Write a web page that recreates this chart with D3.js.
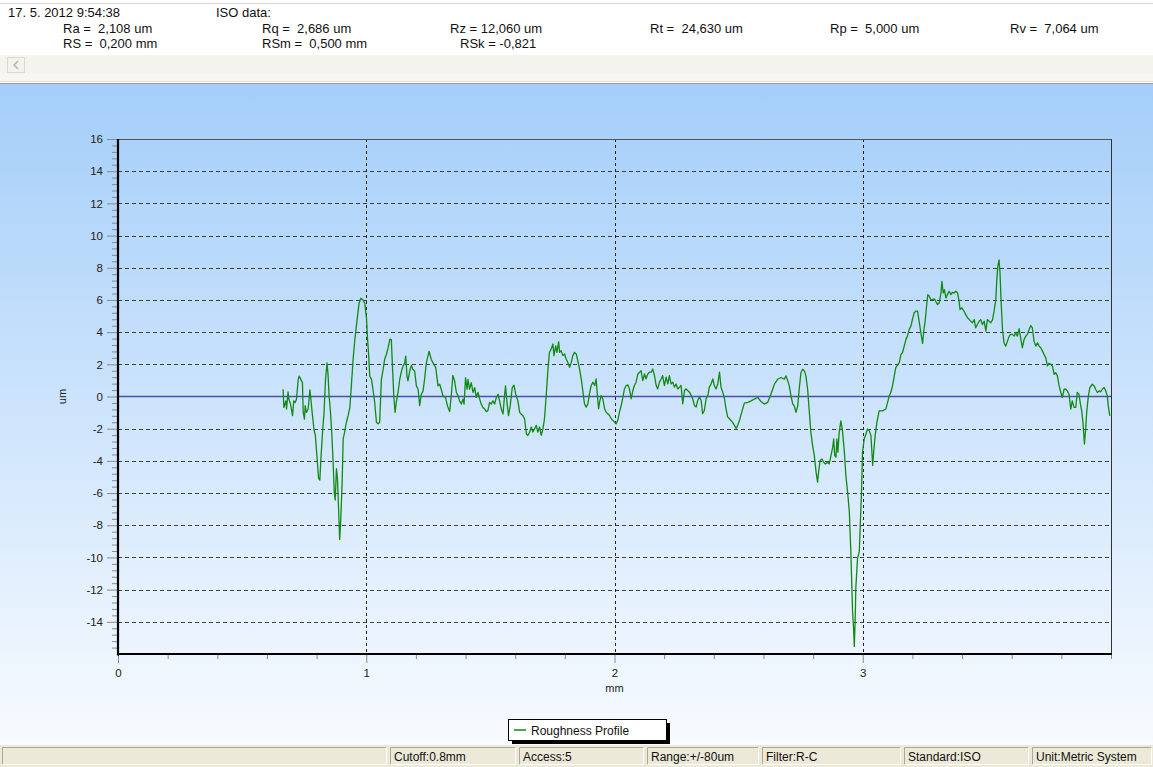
<!DOCTYPE html>
<html><head><meta charset="utf-8">
<script src="https://cdn.jsdelivr.net/npm/d3@7/dist/d3.min.js"></script>
<style>
html,body{margin:0;padding:0;background:#fff;overflow:hidden;}
svg{display:block;font-family:"Liberation Sans",Arial,sans-serif;}
text{white-space:pre;}
</style></head><body>
<svg id="c" width="1153" height="767"></svg>
<script>
// ---------- data ----------
const headerDate = "17. 5. 2012 9:54:38";
const headerTitle = "ISO data:";
const isoRow1 = ["Ra =  2,108 um", "Rq =  2,686 um", "Rz = 12,060 um", "Rt =  24,630 um", "Rp =  5,000 um", "Rv =  7,064 um"];
const isoRow2 = ["RS =  0,200 mm", "RSm =  0,500 mm", "RSk = -0,821"];
const statusItems = ["", "Cutoff:0.8mm", "Access:5", "Range:+/-80um", "Filter:R-C", "Standard:ISO", "Unit:Metric System"];
const legendLabel = "Roughness Profile";
const xAxisTitle = "mm";
const yAxisTitle = "um";
const xDomain = [0, 4];
const yDomain = [-16, 16];
const xMajorTicks = [0, 1, 2, 3];
const xTickLabels = ["0", "1", "2", "3"];
const yMajorTicks = [-14, -12, -10, -8, -6, -4, -2, 0, 2, 4, 6, 8, 10, 12, 14, 16];
const yTickLabels = ["-14", "-12", "-10", "-8", "-6", "-4", "-2", "0", "2", "4", "6", "8", "10", "12", "14", "16"];
const xGridValues = [1, 2, 3];
const yGridValues = [-14, -12, -10, -8, -6, -4, -2, 2, 4, 6, 8, 10, 12, 14];
const zeroLineValue = 0;
// roughness profile [mm, um]
const profile = [
[0.665,0.45],[0.668,-0.68],[0.676,-0.27],[0.679,-0.78],[0.685,0.29],[0.688,-0.16],[0.695,-0.47],[0.703,-1.19],[0.708,-0.27],[0.714,-0.37],
[0.719,-0.16],[0.726,1.07],[0.730,1.27],[0.739,0.97],[0.743,0.86],[0.746,-0.99],[0.751,-1.40],[0.754,-0.57],[0.759,-0.99],[0.766,-0.78],
[0.773,0.41],[0.777,-0.16],[0.782,-0.99],[0.790,-2.11],[0.795,-2.42],[0.802,-3.86],[0.808,-5.09],[0.813,-5.20],[0.817,-3.96],[0.824,-2.22],
[0.830,-0.99],[0.836,1.07],[0.842,2.09],[0.846,1.38],[0.850,0.14],[0.856,-0.99],[0.861,-2.22],[0.867,-4.27],[0.871,-5.91],[0.875,-6.43],
[0.880,-4.48],[0.884,-5.09],[0.889,-7.15],[0.893,-8.89],[0.897,-7.76],[0.903,-5.30],[0.907,-2.63],[0.913,-2.22],[0.920,-1.60],[0.927,-1.19],
[0.934,-0.68],[0.940,0.66],[0.947,2.30],[0.954,3.53],[0.963,4.76],[0.971,5.79],[0.978,6.10],[0.987,6.00],[0.994,5.79],[1.001,4.87],
[1.005,3.63],[1.010,2.51],[1.014,1.27],[1.021,1.07],[1.027,0.45],[1.034,-0.37],[1.041,-1.60],[1.048,-1.70],[1.054,-1.60],[1.061,1.07],
[1.068,1.68],[1.074,2.30],[1.081,2.61],[1.088,3.02],[1.095,3.57],[1.101,3.53],[1.105,2.09],[1.111,0.04],[1.116,-0.99],[1.121,-0.37],
[1.128,0.25],[1.135,1.07],[1.142,1.58],[1.148,1.89],[1.155,2.09],[1.159,2.51],[1.164,1.27],[1.168,0.97],[1.175,1.58],[1.182,1.93],
[1.188,1.68],[1.195,1.58],[1.202,0.66],[1.209,0.45],[1.215,-0.57],[1.222,0.14],[1.229,0.35],[1.235,1.07],[1.242,2.09],[1.253,2.81],
[1.262,2.30],[1.269,2.09],[1.280,1.79],[1.289,0.66],[1.296,0.76],[1.302,0.45],[1.309,0.04],[1.319,-0.06],[1.327,-0.57],[1.336,-0.94],
[1.343,0.14],[1.349,1.31],[1.356,0.97],[1.363,0.25],[1.370,0.04],[1.376,-0.27],[1.383,-0.47],[1.390,-0.16],[1.394,-0.47],[1.400,1.17],
[1.406,0.45],[1.410,1.07],[1.416,0.45],[1.423,0.86],[1.430,0.25],[1.437,0.55],[1.443,-0.06],[1.450,0.25],[1.457,-0.16],[1.463,-0.47],
[1.470,-0.68],[1.477,-0.78],[1.484,-0.94],[1.490,-0.88],[1.497,-0.37],[1.504,-0.47],[1.510,-0.27],[1.517,-0.47],[1.524,-0.06],[1.531,0.14],
[1.537,-0.27],[1.544,-0.78],[1.551,-1.09],[1.557,0.04],[1.561,0.66],[1.567,-0.37],[1.573,-1.19],[1.580,-0.57],[1.588,0.55],[1.595,0.70],
[1.602,0.14],[1.611,-0.27],[1.618,-0.99],[1.624,-1.09],[1.631,-1.19],[1.638,-1.40],[1.645,-2.32],[1.651,-2.42],[1.658,-2.22],
[1.665,-1.90],[1.671,-2.21],[1.678,-2.00],[1.685,-1.79],[1.691,-2.21],[1.698,-1.90],[1.705,-2.41],[1.712,-2.00],[1.718,-1.38],[1.725,0.06],
[1.732,1.71],[1.738,2.74],[1.745,2.95],[1.752,3.26],[1.756,2.54],[1.763,3.15],[1.768,2.74],[1.775,3.40],[1.779,2.74],[1.785,2.85],
[1.792,2.54],[1.799,2.64],[1.805,2.33],[1.812,2.12],[1.819,1.81],[1.826,2.12],[1.832,2.54],[1.839,2.74],[1.846,2.64],[1.852,2.23],
[1.859,1.71],[1.866,1.09],[1.873,0.27],[1.879,-0.45],[1.886,-0.66],[1.893,-0.45],[1.899,0.16],[1.906,0.68],[1.913,0.89],[1.920,0.68],
[1.926,1.09],[1.930,0.27],[1.936,-0.76],[1.940,-0.35],[1.946,0.06],[1.953,-0.14],[1.960,-0.76],[1.966,-0.97],[1.973,-1.07],[1.980,-1.18],
[1.987,-1.38],[1.993,-1.48],[2.000,-1.59],[2.007,-1.69],[2.013,-1.48],[2.020,-0.97],[2.027,-0.56],[2.034,-0.04],[2.040,0.47],[2.047,0.68],
[2.054,0.72],[2.060,0.47],[2.067,-0.14],[2.074,0.37],[2.080,0.68],[2.087,0.89],[2.094,1.40],[2.101,1.51],[2.107,1.61],[2.114,0.99],
[2.121,1.40],[2.127,1.09],[2.134,1.40],[2.141,1.51],[2.148,1.51],[2.154,1.71],[2.161,1.30],[2.168,0.68],[2.174,0.47],[2.181,0.89],
[2.188,1.09],[2.194,1.30],[2.201,0.68],[2.208,1.20],[2.215,0.78],[2.221,1.30],[2.228,0.78],[2.235,0.89],[2.241,0.58],[2.248,0.78],
[2.255,0.47],[2.262,0.58],[2.268,0.68],[2.275,-0.45],[2.282,0.37],[2.288,0.47],[2.295,0.37],[2.302,0.27],[2.309,0.06],[2.315,-0.14],
[2.322,-0.56],[2.329,-0.66],[2.335,-0.25],[2.342,-0.04],[2.349,-0.25],[2.355,-1.07],[2.362,-0.87],[2.369,-0.14],[2.376,0.06],[2.382,0.58],
[2.389,0.78],[2.396,1.09],[2.402,0.68],[2.409,0.47],[2.416,0.78],[2.423,1.51],[2.429,0.58],[2.436,0.27],[2.443,-0.14],[2.449,-0.76],
[2.456,-1.28],[2.463,-1.38],
[2.476,-1.61],[2.490,-1.98],[2.496,-1.81],[2.503,-1.51],[2.516,-0.78],[2.523,-0.41],[2.537,-0.37],[2.550,-0.27],[2.563,-0.16],[2.577,-0.06],
[2.590,-0.31],[2.604,-0.47],[2.617,-0.37],[2.630,0.14],[2.644,0.76],[2.657,1.07],[2.671,1.18],[2.684,1.07],[2.691,1.28],[2.698,0.97],
[2.704,0.66],[2.711,0.04],[2.718,-0.47],[2.724,-0.58],[2.731,-0.99],[2.738,-0.58],[2.744,0.45],[2.751,1.48],[2.758,1.69],[2.765,1.59],
[2.771,1.28],[2.778,0.45],[2.785,-0.99],[2.791,-2.23],[2.798,-3.05],[2.805,-3.67],[2.812,-4.70],[2.818,-5.32],[2.822,-4.70],[2.828,-3.98],
[2.836,-3.88],[2.842,-4.08],[2.849,-4.19],[2.858,-4.08],[2.865,-4.19],[2.872,-3.67],[2.879,-3.15],[2.883,-2.64],[2.887,-3.67],[2.892,-3.77],
[2.896,-2.64],[2.900,-3.46],[2.905,-2.23],[2.912,-1.51],[2.919,-2.23],[2.926,-3.46],[2.932,-4.91],[2.939,-5.94],[2.946,-7.18],[2.952,-9.65],
[2.959,-13.36],[2.963,-14.39],[2.966,-15.53],[2.970,-13.57],[2.972,-11.92],[2.979,-10.06],[2.986,-9.65],[2.990,-8.00],[2.995,-5.94],[2.999,-3.46],
[3.006,-2.64],[3.013,-2.33],[3.019,-2.02],[3.026,-2.12],[3.033,-2.43],[3.040,-4.29],[3.044,-3.46],[3.050,-2.43],[3.057,-1.61],[3.066,-0.89],
[3.080,-0.89],[3.093,-0.78],[3.100,-0.37],[3.107,0.04],[3.113,0.25],[3.120,0.66],[3.127,1.28],[3.133,1.79],[3.147,2.10],[3.154,2.62],
[3.160,2.72],[3.167,3.13],[3.174,3.55],[3.180,3.75],[3.187,4.16],[3.194,4.37],[3.200,4.78],[3.207,5.20],[3.214,5.30],[3.221,5.30],
[3.227,4.68],[3.234,3.96],[3.241,3.30],[3.245,3.96],[3.252,4.78],[3.257,5.61],[3.262,6.33],[3.268,6.23],[3.274,6.02],[3.281,6.02],
[3.288,6.06],[3.294,5.92],[3.301,5.71],[3.308,5.81],[3.315,6.43],[3.319,7.15],[3.324,6.43],[3.329,6.64],[3.335,6.12],[3.341,6.33],
[3.348,6.54],[3.355,6.33],[3.361,6.47],[3.368,6.43],[3.375,6.54],[3.382,6.43],[3.388,5.92],[3.392,5.40],[3.399,5.51],[3.408,5.30],
[3.415,5.09],[3.422,4.89],[3.429,4.78],[3.435,4.68],[3.442,4.58],[3.449,4.78],[3.455,4.27],[3.462,4.47],[3.469,4.68],[3.475,4.78],
[3.482,4.47],[3.489,4.68],[3.496,4.06],[3.502,4.78],[3.509,4.68],[3.516,4.58],[3.523,4.78],[3.529,5.30],[3.536,6.02],[3.540,7.26],
[3.544,8.08],[3.549,8.49],[3.553,7.67],[3.557,6.02],[3.563,4.16],[3.569,3.34],[3.576,3.13],[3.583,3.44],[3.590,3.75],[3.596,3.86],
[3.603,3.86],[3.610,3.75],[3.616,3.96],[3.623,3.75],[3.630,4.21],[3.637,3.55],[3.643,3.03],[3.650,3.55],[3.657,3.75],[3.663,3.86],
[3.670,4.16],[3.677,4.41],[3.683,4.27],[3.690,3.44],[3.697,3.13],[3.704,3.34],[3.710,3.13],[3.717,3.03],[3.724,2.82],[3.730,2.62],
[3.737,2.41],[3.744,1.90],[3.750,2.06],[3.757,2.00],[3.764,1.90],[3.771,1.38],[3.777,1.48],[3.784,1.28],[3.791,0.66],[3.798,0.25],
[3.804,-0.06],[3.811,0.45],[3.818,0.45],[3.824,0.35],[3.831,0.14],[3.838,-0.78],[3.844,-0.27],[3.851,-0.68],[3.858,-0.68],[3.864,0.25],
[3.871,0.14],[3.878,-0.58],[3.882,-0.89],[3.887,-1.61],[3.893,-2.95],[3.898,-2.02],[3.902,-0.99],[3.909,0.04],[3.915,0.56],[3.925,0.76],
[3.932,0.66],[3.938,0.45],[3.945,0.25],[3.952,0.35],[3.958,0.29],[3.965,0.45],[3.972,0.56],[3.979,0.35],[3.985,0.04],[3.989,-0.58],
[3.995,-1.20]
];

// ---------- layout ----------
const W = 1153, H = 767;
const plot = {left: 118, right: 1111, top: 139, bottom: 654};
const svg = d3.select("#c");
const defs = svg.append("defs");
const grad = defs.append("linearGradient").attr("id", "bg")
  .attr("gradientUnits", "userSpaceOnUse").attr("x1", 0).attr("y1", 85).attr("x2", 0).attr("y2", 745);
grad.append("stop").attr("offset", 0).attr("stop-color", "#a4cef9");
grad.append("stop").attr("offset", 1).attr("stop-color", "#f8fbff");

svg.append("rect").attr("width", W).attr("height", H).attr("fill", "#ffffff");
// top separator
svg.append("line").attr("x1", 0).attr("x2", W).attr("y1", 3.5).attr("y2", 3.5).attr("stroke", "#d4d4d4");

// header texts
const hdr = svg.append("g").attr("font-size", 13).attr("fill", "#111");
hdr.append("text").attr("x", 8).attr("y", 17).text(headerDate);
hdr.append("text").attr("x", 216).attr("y", 17).text(headerTitle);
const row1X = [63, 262, 450, 650, 830, 1010];
isoRow1.forEach((t, i) => hdr.append("text").attr("x", row1X[i]).attr("y", 33).text(t));
const row2X = [63, 262, 460];
isoRow2.forEach((t, i) => hdr.append("text").attr("x", row2X[i]).attr("y", 48).text(t));

// scrollbar band
const sb = svg.append("g");
sb.append("rect").attr("x", 0).attr("y", 55).attr("width", W).attr("height", 26).attr("fill", "#f4f3ee");
sb.append("rect").attr("x", 0).attr("y", 74).attr("width", W).attr("height", 7).attr("fill", "#f7f6f2");
sb.append("rect").attr("x", 7.5).attr("y", 57.5).attr("width", 17).attr("height", 15).attr("fill", "#f3f2ec").attr("stroke", "#dcdacd");
sb.append("path").attr("d", "M18,61 L14,65 L18,69").attr("fill", "none").attr("stroke", "#b8b6aa").attr("stroke-width", 1.5);
sb.append("line").attr("x1", 0).attr("x2", W).attr("y1", 81.5).attr("y2", 81.5).attr("stroke", "#e4e1d4");
sb.append("line").attr("x1", 0).attr("x2", W).attr("y1", 83.5).attr("y2", 83.5).attr("stroke", "#9a9a9a");

// chart background
svg.append("rect").attr("x", 0).attr("y", 84).attr("width", W).attr("height", 661).attr("fill", "url(#bg)");

// scales
const x = d3.scaleLinear().domain(xDomain).range([plot.left, plot.right]);
const y = d3.scaleLinear().domain(yDomain).range([plot.bottom, plot.top]);

// grid
const grid = svg.append("g");
grid.selectAll("line.h").data(yGridValues).join("line")
  .attr("x1", plot.left).attr("x2", plot.right)
  .attr("y1", d => Math.round(y(d)) + 0.5).attr("y2", d => Math.round(y(d)) + 0.5)
  .attr("stroke", "#222").attr("stroke-dasharray", "4,3").attr("stroke-opacity", 0.85);
grid.selectAll("line.v").data(xGridValues).join("line")
  .attr("x1", d => Math.round(x(d)) + 0.5).attr("x2", d => Math.round(x(d)) + 0.5)
  .attr("y1", plot.top).attr("y2", plot.bottom)
  .attr("stroke", "#222").attr("stroke-dasharray", "3,3");

// zero line
svg.append("line").attr("x1", plot.left).attr("x2", plot.right)
  .attr("y1", y(zeroLineValue)).attr("y2", y(zeroLineValue))
  .attr("stroke", "#4650b0").attr("stroke-width", 1.6);

// profile
const line = d3.line().x(d => x(d[0])).y(d => y(d[1]));
svg.append("path").datum(profile).attr("d", line)
  .attr("fill", "none").attr("stroke", "#118a11").attr("stroke-width", 1.3).attr("stroke-linejoin", "round");

// frame
svg.append("line").attr("x1", plot.left).attr("x2", plot.right).attr("y1", plot.top + 0.5).attr("y2", plot.top + 0.5).attr("stroke", "#555");
svg.append("line").attr("x1", plot.right + 0.5).attr("x2", plot.right + 0.5).attr("y1", plot.top).attr("y2", plot.bottom).attr("stroke", "#333");

// axes
const yMinor = d3.range(-16, 16.001, 0.4).map(v => +v.toFixed(1)).filter(v => !yMajorTicks.includes(v) && v !== -16);
const xMinor = d3.range(0, 4.001, 0.2).map(v => +v.toFixed(1)).filter(v => !xMajorTicks.includes(v));

const yAxisG = svg.append("g").attr("transform", `translate(${plot.left - 1},0)`)
  .call(d3.axisLeft(y).tickValues(yMajorTicks).tickFormat((d, i) => yTickLabels[i]).tickSize(10).tickPadding(4));
const yMinorG = svg.append("g").attr("transform", `translate(${plot.left - 1},0)`)
  .call(d3.axisLeft(y).tickValues(yMinor).tickFormat("").tickSize(5));
const xAxisG = svg.append("g").attr("transform", `translate(0,${plot.bottom + 1})`)
  .call(d3.axisBottom(x).tickValues(xMajorTicks).tickFormat((d, i) => xTickLabels[i]).tickSize(8).tickPadding(6));
const xMinorG = svg.append("g").attr("transform", `translate(0,${plot.bottom + 1})`)
  .call(d3.axisBottom(x).tickValues(xMinor).tickFormat("").tickSize(4));
[yAxisG, yMinorG, xAxisG, xMinorG].forEach(g => {
  g.select(".domain").remove();
  g.selectAll(".tick line").attr("stroke", "#8a8a8a");
  g.selectAll("text").attr("font-size", 11.5).attr("fill", "#222").attr("font-family", "Liberation Sans, Arial, sans-serif");
});

// axis lines (thick)
svg.append("line").attr("x1", plot.left).attr("x2", plot.left).attr("y1", plot.top).attr("y2", plot.bottom + 1.5).attr("stroke", "#000").attr("stroke-width", 2.2);
svg.append("line").attr("x1", plot.left - 1).attr("x2", plot.right + 1).attr("y1", plot.bottom).attr("y2", plot.bottom).attr("stroke", "#000").attr("stroke-width", 2.2);

// axis titles
svg.append("text").attr("transform", `translate(66,${y(0)}) rotate(-90)`).attr("text-anchor", "middle")
  .attr("font-size", 11).attr("fill", "#222").text(yAxisTitle);
svg.append("text").attr("x", x(2)).attr("y", 692).attr("text-anchor", "middle")
  .attr("font-size", 11).attr("fill", "#222").text(xAxisTitle);

// legend
const lg = svg.append("g");
lg.append("rect").attr("x", 512).attr("y", 723).attr("width", 158).attr("height", 21).attr("fill", "#000");
lg.append("rect").attr("x", 508.5).attr("y", 719.5).attr("width", 158).attr("height", 21).attr("fill", "#fff").attr("stroke", "#000");
lg.append("line").attr("x1", 514).attr("x2", 526).attr("y1", 730).attr("y2", 730).attr("stroke", "#118a11").attr("stroke-width", 1.5);
lg.append("text").attr("x", 531).attr("y", 734.5).attr("font-size", 12).attr("fill", "#111").text(legendLabel);

// status bar
const st = svg.append("g");
st.append("rect").attr("x", 0).attr("y", 745).attr("width", W).attr("height", 22).attr("fill", "#ece9d8");
const panelEdges = [0, 388, 517, 645, 760, 902, 1030, 1153];
statusItems.forEach((t, i) => {
  const x0 = panelEdges[i] + 2, x1 = panelEdges[i + 1] - 1;
  st.append("path").attr("d", `M${x0 + 0.5},764.5 V747.5 H${x1 - 0.5}`).attr("fill", "none").attr("stroke", "#aca899");
  st.append("path").attr("d", `M${x1 - 0.5},747.5 V764.5 H${x0 + 0.5}`).attr("fill", "none").attr("stroke", "#ffffff");
  st.append("text").attr("x", x0 + 4).attr("y", 761).attr("font-size", 12).attr("fill", "#111").text(t);
});
</script>
</body></html>
